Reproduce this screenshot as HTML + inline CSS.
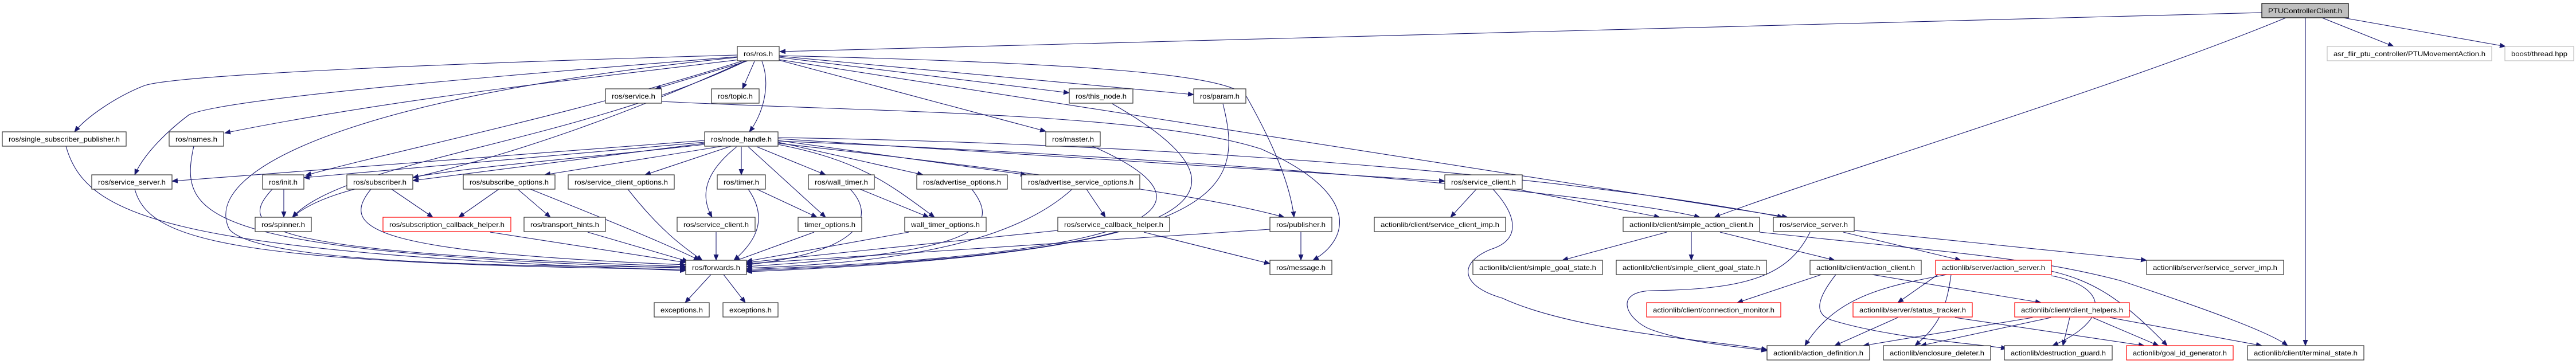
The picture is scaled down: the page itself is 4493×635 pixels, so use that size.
<!DOCTYPE html>
<html><head><meta charset="utf-8"><style>
html,body{margin:0;padding:0;background:#fff;width:4493px;height:635px;overflow:hidden}
svg{display:block}
text{font-family:"Liberation Sans",sans-serif;font-size:12px;fill:#000}
.e{fill:none;stroke:#191970;stroke-width:1.1}
.n{fill:#fff;stroke:#333;stroke-width:1.2}
.r{fill:#fff;stroke:#ff0000;stroke-width:1.2}
.x{fill:#fff;stroke:#bfbfbf;stroke-width:1.2}
</style></head><body>
<svg width="4493" height="635" viewBox="0 0 4493 635" xmlns="http://www.w3.org/2000/svg">
<defs><marker id="a" markerUnits="userSpaceOnUse" markerWidth="11" markerHeight="9" refX="10" refY="4.5" orient="auto"><path d="M0,0 L11,4.5 L0,9 z" fill="#191970"/></marker></defs>
<g class="e" marker-end="url(#a)">
<path d="M3945,22 L1360,90"/>
<path d="M3987,31 C3700,150 3200,300 2990,379"/>
<path d="M4021,31 L4021,603"/>
<path d="M4050,31 L4175,81"/>
<path d="M4087,31 L4370,81"/>
<path d="M1286,96 C800,110 300,130 250,150 C200,170 150,205 130,230"/>
<path d="M1286,99 C900,130 400,170 330,200 C290,230 250,270 235,305"/>
<path d="M1290,104 C1000,140 700,170 392,232"/>
<path d="M1296,106 C1000,200 700,260 533,306"/>
<path d="M1300,106 C1050,220 850,280 720,310"/>
<path d="M1305,106 L1143,155"/>
<path d="M1316,107 L1295,155"/>
<path d="M1329,107 C1345,150 1330,200 1307,230"/>
<path d="M1300,107 C1000,250 600,280 510,379"/>
<path d="M1359,100 L1865,162"/>
<path d="M1359,98 L2082,165"/>
<path d="M1359,105 L1824,229"/>
<path d="M1359,97 C1900,110 2150,130 2175,170 C2220,250 2250,320 2257,379"/>
<path d="M1359,104 L3118,379"/>
<path d="M1286,100 C600,170 350,300 400,400 C450,460 900,465 1196,466"/>
<path d="M1154,177 C1500,195 2000,195 2200,260 C2380,340 2350,420 2290,454"/>
<path d="M1229,245 L300,316"/>
<path d="M1229,248 L530,310"/>
<path d="M1229,250 L720,315"/>
<path d="M1229,252 C900,290 600,300 510,379"/>
<path d="M1260,255 L950,305"/>
<path d="M1275,255 L1125,305"/>
<path d="M1285,256 C1230,300 1220,340 1242,379"/>
<path d="M1293,256 L1293,305"/>
<path d="M1305,256 L1440,379"/>
<path d="M1320,256 L1440,305"/>
<path d="M1357,252 C1500,280 1550,320 1630,379"/>
<path d="M1357,248 L1610,305"/>
<path d="M1357,245 L1790,305"/>
<path d="M1357,242 L2520,316"/>
<path d="M1357,250 C1800,300 2100,340 2240,379"/>
<path d="M1357,240 C2000,250 2700,300 3110,379"/>
<path d="M1357,246 C2200,280 2800,340 2965,379"/>
<path d="M235,330 C260,420 400,460 1196,470"/>
<path d="M115,255 C150,380 300,440 1196,472"/>
<path d="M338,255 C310,380 350,440 1196,468"/>
<path d="M475,330 C410,400 450,440 1196,465"/>
<path d="M495,330 L495,379"/>
<path d="M683,330 L755,379"/>
<path d="M647,330 C590,400 650,440 1196,462"/>
<path d="M870,330 L800,379"/>
<path d="M903,330 L960,379"/>
<path d="M925,330 C1050,380 1150,420 1220,454"/>
<path d="M1095,330 C1150,400 1190,430 1225,454"/>
<path d="M1305,330 C1340,380 1320,420 1280,454"/>
<path d="M1320,330 L1425,379"/>
<path d="M1500,330 L1620,379"/>
<path d="M1483,330 C1530,380 1500,440 1302,462"/>
<path d="M1695,330 C1750,400 1700,440 1302,465"/>
<path d="M1870,330 C1750,440 1500,460 1302,468"/>
<path d="M1895,330 L1928,379"/>
<path d="M1905,255 C2100,340 2120,440 1302,470"/>
<path d="M1940,181 C2200,330 2150,440 1302,472"/>
<path d="M2133,181 C2170,330 2150,440 1302,474"/>
<path d="M2269,405 L2269,454"/>
<path d="M2215,400 L1302,460"/>
<path d="M1995,405 L2215,460"/>
<path d="M1845,402 L1302,458"/>
<path d="M855,405 L1196,458"/>
<path d="M1025,405 L1200,456"/>
<path d="M1249,405 L1249,454"/>
<path d="M1420,405 L1280,456"/>
<path d="M1585,405 L1302,456"/>
<path d="M1240,479 L1195,528"/>
<path d="M1262,479 L1300,528"/>
<path d="M2575,330 L2530,379"/>
<path d="M2645,330 L2895,379"/>
<path d="M2604,330 C2650,380 2650,420 2600,435 C2540,460 2550,500 2620,520 C2750,580 3000,595 3082,610"/>
<path d="M2907,405 L2725,454"/>
<path d="M2950,405 L2950,454"/>
<path d="M3000,405 L3200,454"/>
<path d="M3069,405 C3400,440 3550,450 3700,490 C3850,540 3960,580 3990,603"/>
<path d="M3157,405 C3120,480 3050,505 2880,507 C2810,510 2840,560 2880,575 C2950,600 3040,605 3082,612"/>
<path d="M3215,405 L3420,454"/>
<path d="M3234,402 L3744,454"/>
<path d="M3177,479 L3030,528"/>
<path d="M3202,479 C3170,520 3160,550 3200,560 C3300,590 3450,600 3500,608"/>
<path d="M3265,479 L3560,528"/>
<path d="M3396,479 C3280,500 3200,520 3148,603"/>
<path d="M3380,479 L3310,528"/>
<path d="M3403,479 C3395,540 3380,570 3340,603"/>
<path d="M3578,481 C3680,500 3680,560 3580,603"/>
<path d="M3578,473 C3650,490 3700,520 3780,603"/>
<path d="M3310,554 L3200,603"/>
<path d="M3410,554 L3740,603"/>
<path d="M3545,554 L3250,603"/>
<path d="M3577,554 L3350,603"/>
<path d="M3610,554 L3598,603"/>
<path d="M3650,554 L3765,603"/>
<path d="M3680,554 L3945,603"/>
</g>
<g>
<rect x="3945" y="6" width="151" height="25" fill="#bfbfbf" stroke="#000" stroke-width="1.2"/><text x="3956" y="23" textLength="129" lengthAdjust="spacingAndGlyphs">PTUControllerClient.h</text>
<rect class="n" x="1286" y="81" width="73" height="25"/><text x="1297" y="98" textLength="51" lengthAdjust="spacingAndGlyphs">ros/ros.h</text>
<rect class="x" x="4059" y="81" width="287" height="25"/><text x="4070" y="98" textLength="265" lengthAdjust="spacingAndGlyphs">asr_flir_ptu_controller/PTUMovementAction.h</text>
<rect class="x" x="4369" y="81" width="120" height="25"/><text x="4380" y="98" textLength="98" lengthAdjust="spacingAndGlyphs">boost/thread.hpp</text>
<rect class="n" x="1056" y="155" width="98" height="25"/><text x="1067" y="172" textLength="76" lengthAdjust="spacingAndGlyphs">ros/service.h</text>
<rect class="n" x="1241" y="155" width="83" height="25"/><text x="1252" y="172" textLength="61" lengthAdjust="spacingAndGlyphs">ros/topic.h</text>
<rect class="n" x="1865" y="155" width="111" height="25"/><text x="1876" y="172" textLength="89" lengthAdjust="spacingAndGlyphs">ros/this_node.h</text>
<rect class="n" x="2082" y="155" width="91" height="25"/><text x="2093" y="172" textLength="69" lengthAdjust="spacingAndGlyphs">ros/param.h</text>
<rect class="n" x="4" y="230" width="216" height="25"/><text x="15" y="247" textLength="194" lengthAdjust="spacingAndGlyphs">ros/single_subscriber_publisher.h</text>
<rect class="n" x="295" y="230" width="95" height="25"/><text x="306" y="247" textLength="73" lengthAdjust="spacingAndGlyphs">ros/names.h</text>
<rect class="n" x="1229" y="230" width="128" height="25"/><text x="1240" y="247" textLength="106" lengthAdjust="spacingAndGlyphs">ros/node_handle.h</text>
<rect class="n" x="1824" y="230" width="95" height="25"/><text x="1835" y="247" textLength="73" lengthAdjust="spacingAndGlyphs">ros/master.h</text>
<rect class="n" x="160" y="305" width="140" height="25"/><text x="171" y="322" textLength="118" lengthAdjust="spacingAndGlyphs">ros/service_server.h</text>
<rect class="n" x="458" y="305" width="72" height="25"/><text x="469" y="322" textLength="50" lengthAdjust="spacingAndGlyphs">ros/init.h</text>
<rect class="n" x="605" y="305" width="115" height="25"/><text x="616" y="322" textLength="93" lengthAdjust="spacingAndGlyphs">ros/subscriber.h</text>
<rect class="n" x="808" y="305" width="160" height="25"/><text x="819" y="322" textLength="138" lengthAdjust="spacingAndGlyphs">ros/subscribe_options.h</text>
<rect class="n" x="991" y="305" width="185" height="25"/><text x="1002" y="322" textLength="163" lengthAdjust="spacingAndGlyphs">ros/service_client_options.h</text>
<rect class="n" x="1251" y="305" width="84" height="25"/><text x="1262" y="322" textLength="62" lengthAdjust="spacingAndGlyphs">ros/timer.h</text>
<rect class="n" x="1410" y="305" width="115" height="25"/><text x="1421" y="322" textLength="93" lengthAdjust="spacingAndGlyphs">ros/wall_timer.h</text>
<rect class="n" x="1599" y="305" width="158" height="25"/><text x="1610" y="322" textLength="136" lengthAdjust="spacingAndGlyphs">ros/advertise_options.h</text>
<rect class="n" x="1782" y="305" width="206" height="25"/><text x="1793" y="322" textLength="184" lengthAdjust="spacingAndGlyphs">ros/advertise_service_options.h</text>
<rect class="n" x="2520" y="305" width="135" height="25"/><text x="2531" y="322" textLength="113" lengthAdjust="spacingAndGlyphs">ros/service_client.h</text>
<rect class="n" x="445" y="379" width="98" height="25"/><text x="456" y="396" textLength="76" lengthAdjust="spacingAndGlyphs">ros/spinner.h</text>
<rect class="r" x="668" y="379" width="223" height="25"/><text x="679" y="396" textLength="201" lengthAdjust="spacingAndGlyphs">ros/subscription_callback_helper.h</text>
<rect class="n" x="914" y="379" width="142" height="25"/><text x="925" y="396" textLength="120" lengthAdjust="spacingAndGlyphs">ros/transport_hints.h</text>
<rect class="n" x="1181" y="379" width="136" height="25"/><text x="1192" y="396" textLength="114" lengthAdjust="spacingAndGlyphs">ros/service_client.h</text>
<rect class="n" x="1392" y="379" width="111" height="25"/><text x="1403" y="396" textLength="89" lengthAdjust="spacingAndGlyphs">timer_options.h</text>
<rect class="n" x="1578" y="379" width="142" height="25"/><text x="1589" y="396" textLength="120" lengthAdjust="spacingAndGlyphs">wall_timer_options.h</text>
<rect class="n" x="1845" y="379" width="195" height="25"/><text x="1856" y="396" textLength="173" lengthAdjust="spacingAndGlyphs">ros/service_callback_helper.h</text>
<rect class="n" x="2215" y="379" width="108" height="25"/><text x="2226" y="396" textLength="86" lengthAdjust="spacingAndGlyphs">ros/publisher.h</text>
<rect class="n" x="2397" y="379" width="229" height="25"/><text x="2408" y="396" textLength="207" lengthAdjust="spacingAndGlyphs">actionlib/client/service_client_imp.h</text>
<rect class="n" x="2831" y="379" width="238" height="25"/><text x="2842" y="396" textLength="216" lengthAdjust="spacingAndGlyphs">actionlib/client/simple_action_client.h</text>
<rect class="n" x="3093" y="379" width="141" height="25"/><text x="3104" y="396" textLength="119" lengthAdjust="spacingAndGlyphs">ros/service_server.h</text>
<rect class="n" x="1196" y="454" width="106" height="25"/><text x="1207" y="471" textLength="84" lengthAdjust="spacingAndGlyphs">ros/forwards.h</text>
<rect class="n" x="2215" y="454" width="108" height="25"/><text x="2226" y="471" textLength="86" lengthAdjust="spacingAndGlyphs">ros/message.h</text>
<rect class="n" x="2569" y="454" width="226" height="25"/><text x="2580" y="471" textLength="204" lengthAdjust="spacingAndGlyphs">actionlib/client/simple_goal_state.h</text>
<rect class="n" x="2819" y="454" width="262" height="25"/><text x="2830" y="471" textLength="240" lengthAdjust="spacingAndGlyphs">actionlib/client/simple_client_goal_state.h</text>
<rect class="n" x="3157" y="454" width="194" height="25"/><text x="3168" y="471" textLength="172" lengthAdjust="spacingAndGlyphs">actionlib/client/action_client.h</text>
<rect class="r" x="3376" y="454" width="202" height="25"/><text x="3387" y="471" textLength="180" lengthAdjust="spacingAndGlyphs">actionlib/server/action_server.h</text>
<rect class="n" x="3744" y="454" width="239" height="25"/><text x="3755" y="471" textLength="217" lengthAdjust="spacingAndGlyphs">actionlib/server/service_server_imp.h</text>
<rect class="n" x="1141" y="528" width="96" height="25"/><text x="1152" y="545" textLength="74" lengthAdjust="spacingAndGlyphs">exceptions.h</text>
<rect class="n" x="1261" y="528" width="96" height="25"/><text x="1272" y="545" textLength="74" lengthAdjust="spacingAndGlyphs">exceptions.h</text>
<rect class="r" x="2872" y="528" width="234" height="25"/><text x="2883" y="545" textLength="212" lengthAdjust="spacingAndGlyphs">actionlib/client/connection_monitor.h</text>
<rect class="r" x="3232" y="528" width="208" height="25"/><text x="3243" y="545" textLength="186" lengthAdjust="spacingAndGlyphs">actionlib/server/status_tracker.h</text>
<rect class="r" x="3514" y="528" width="200" height="25"/><text x="3525" y="545" textLength="178" lengthAdjust="spacingAndGlyphs">actionlib/client/client_helpers.h</text>
<rect class="n" x="3082" y="603" width="179" height="25"/><text x="3093" y="620" textLength="157" lengthAdjust="spacingAndGlyphs">actionlib/action_definition.h</text>
<rect class="n" x="3285" y="603" width="187" height="25"/><text x="3296" y="620" textLength="165" lengthAdjust="spacingAndGlyphs">actionlib/enclosure_deleter.h</text>
<rect class="n" x="3496" y="603" width="188" height="25"/><text x="3507" y="620" textLength="166" lengthAdjust="spacingAndGlyphs">actionlib/destruction_guard.h</text>
<rect class="r" x="3709" y="603" width="186" height="25"/><text x="3720" y="620" textLength="164" lengthAdjust="spacingAndGlyphs">actionlib/goal_id_generator.h</text>
<rect class="n" x="3920" y="603" width="203" height="25"/><text x="3931" y="620" textLength="181" lengthAdjust="spacingAndGlyphs">actionlib/client/terminal_state.h</text>
</g>
</svg>
</body></html>
